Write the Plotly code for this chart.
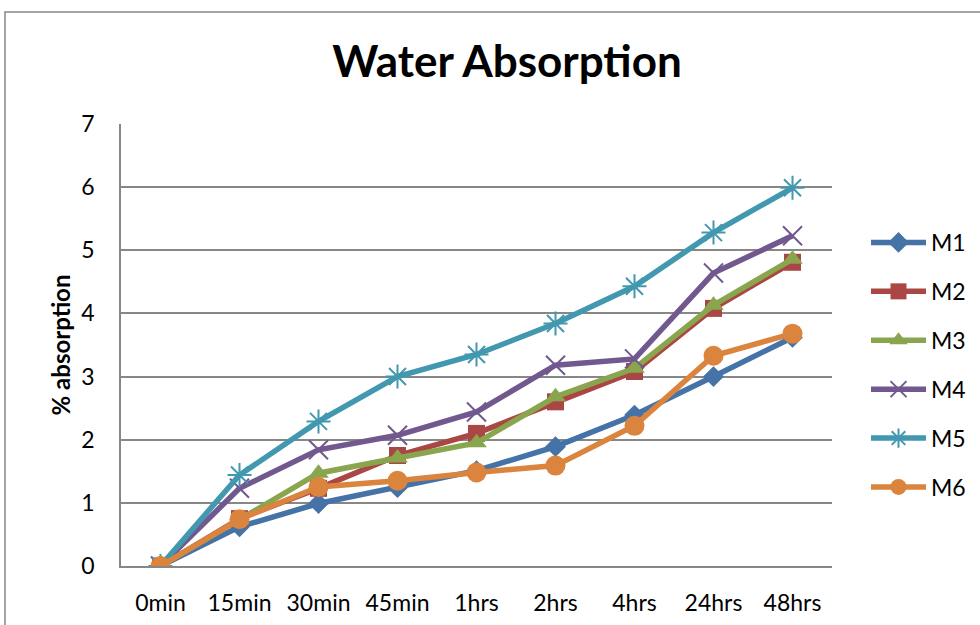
import plotly.graph_objects as go

# Soak times (category axis)
times = ["0min", "15min", "30min", "45min", "1hrs", "2hrs", "4hrs", "24hrs", "48hrs"]

# % water absorption for each mix
m1 = [0, 0.62, 0.99, 1.24, 1.51, 1.89, 2.39, 3.00, 3.62]
m2 = [0, 0.75, 1.23, 1.75, 2.10, 2.60, 3.08, 4.08, 4.81]
m3 = [0, 0.74, 1.47, 1.71, 1.95, 2.68, 3.13, 4.13, 4.86]
m4 = [0, 1.23, 1.84, 2.07, 2.44, 3.18, 3.28, 4.64, 5.23]
m5 = [0, 1.44, 2.29, 3.00, 3.35, 3.84, 4.43, 5.28, 5.99]
m6 = [0, 0.74, 1.25, 1.35, 1.48, 1.59, 2.22, 3.33, 3.68]

series_names = ["M1", "M2", "M3", "M4", "M5", "M6"]
series_values = [m1, m2, m3, m4, m5, m6]
colors = ["#4572A7", "#AA4643", "#89A54E", "#71588F", "#4198AF", "#DB843D"]
symbols = ["diamond", "square", "triangle-up", "x-thin-open", "asterisk-open", "circle"]
sizes = [16, 17, 18, 19, 20, 20]

FONT = "Lato, 'Open Sans', sans-serif"
GRID = "#878787"

fig = go.Figure()
for i, (name, vals) in enumerate(zip(series_names, series_values)):
    open_marker = symbols[i].endswith("-open")
    fig.add_trace(go.Scatter(
        x=times, y=vals, name=name, mode="lines+markers",
        legendgroup=name,
        line=dict(color=colors[i], width=5.5),
        marker=dict(symbol=symbols[i], size=sizes[i], color=colors[i],
                    line=dict(color=colors[i], width=2 if open_marker else 0)),
    ))

fig.update_layout(
    width=980, height=625,
    margin=dict(l=121, r=148, t=124, b=59, autoexpand=False),
    paper_bgcolor="white", plot_bgcolor="white",
    font=dict(family=FONT, size=23, color="black"),
    title=dict(text="<b>Water Absorption</b>", x=507 / 980, xanchor="center",
               y=1 - 62 / 625, yanchor="middle", yref="container",
               font=dict(family=FONT, size=44, color="black")),
    showlegend=True,
    legend=dict(xref="container", yref="container",
                x=866 / 980, xanchor="left", y=1 - 221 / 625, yanchor="top",
                font=dict(family=FONT, size=23, color="black"),
                tracegroupgap=16, itemwidth=55, bgcolor="rgba(0,0,0,0)"),
    xaxis=dict(type="category", range=[-0.5, 8.5], showgrid=False,
               showline=True, linecolor=GRID, linewidth=1.5, automargin=False,
               ticks="outside", ticklen=16, tickcolor="rgba(0,0,0,0)",
               tickfont=dict(family=FONT, size=23), zeroline=False),
    yaxis=dict(range=[0, 7], dtick=1, showgrid=True, gridcolor=GRID, gridwidth=1.5,
               showline=True, linecolor=GRID, linewidth=1.5, zeroline=False,
               automargin=False,
               ticks="outside", ticklen=20, tickcolor="rgba(0,0,0,0)",
               tickfont=dict(family=FONT, size=23),
               title=dict(text="<b>% absorption</b>", standoff=4,
                          font=dict(family=FONT, size=24))),
    shapes=[dict(type="rect", xref="paper", yref="paper",
                 x0=(5 - 121) / 711, x1=(990 - 121) / 711,
                 y0=(566 - 640) / 442, y1=(566 - 12) / 442,
                 line=dict(color=GRID, width=1.5), fillcolor="rgba(0,0,0,0)",
                 layer="below")],
)

fig.write_html("out.html")
